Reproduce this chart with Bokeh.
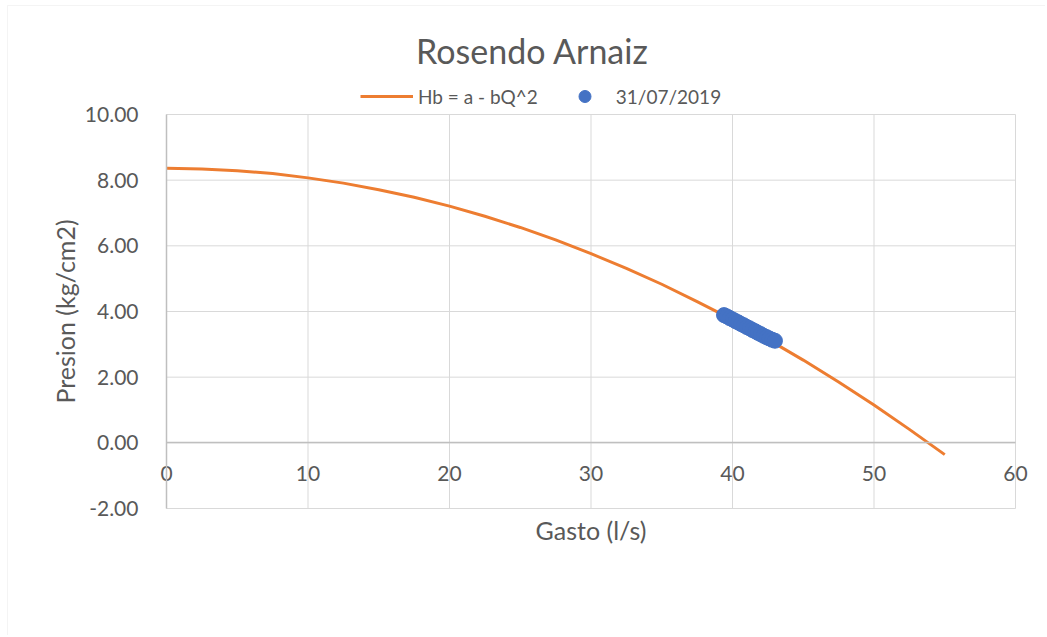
from bokeh.plotting import figure
from bokeh.models import LinearAxis, FixedTicker, NumeralTickFormatter, Legend, LegendItem, Range1d, Label, BoxAnnotation
from bokeh.embed import file_html
from bokeh.resources import INLINE

# Curve Hb = a - bQ^2
curve_q = [0, 2.5, 5, 7.5, 10, 12.5, 15, 17.5, 20, 22.5, 25, 27.5, 30,
           32.5, 35, 37.5, 40, 42.5, 45, 47.5, 50, 52.5, 55]
curve_h = [8.36, 8.34, 8.29, 8.20, 8.07, 7.91, 7.71, 7.48, 7.21, 6.90, 6.56, 6.18, 5.76,
           5.31, 4.83, 4.30, 3.75, 3.15, 2.52, 1.85, 1.15, 0.41, -0.36]

# Measurements 31/07/2019
meas_q = [39.4, 39.6, 39.8, 40.0, 40.2, 40.4, 40.6, 40.8, 41.0, 41.2,
          41.4, 41.6, 41.8, 42.0, 42.2, 42.4, 42.6, 42.8, 43.0]
meas_h = [3.89, 3.85, 3.80, 3.76, 3.71, 3.67, 3.62, 3.58, 3.53, 3.49,
          3.44, 3.40, 3.35, 3.31, 3.26, 3.22, 3.18, 3.14, 3.11]

x_ticks = [0, 10, 20, 30, 40, 50, 60]
y_ticks = [-2, 0, 2, 4, 6, 8, 10]

title_text = "Rosendo Arnaiz"
x_label = "Gasto (l/s)"
y_label = "Presion (kg/cm2)"
series_names = ["Hb = a - bQ^2", "31/07/2019"]

FONT = "Lato"
TXT = "#595959"
GRID = "#d9d9d9"
AX = "#bfbfbf"

W, H = 1045, 635
# plot area (in pixels of the canvas) where the axes live
PL, PR, PT, PB = 166, 1015, 114, 508
xmin, xmax = x_ticks[0], x_ticks[-1]
ymin, ymax = y_ticks[0], y_ticks[-1]
sx = (PR - PL) / (xmax - xmin)
sy = (PB - PT) / (ymax - ymin)
x_range = Range1d(xmin - PL / sx, xmax + (W - PR) / sx)
y_range = Range1d(ymin - (H - PB) / sy, ymax + PT / sy)

p = figure(width=W, height=H, output_backend="svg", toolbar_location=None,
           x_range=x_range, y_range=y_range,
           x_axis_type=None, y_axis_type=None,
           min_border_left=0, min_border_right=0, min_border_top=0, min_border_bottom=0)
p.outline_line_color = None
p.xgrid.visible = False
p.ygrid.visible = False

# chart border
p.add_layout(BoxAnnotation(left=7, right=W + 50, bottom=-50, top=H - 5,
                           left_units="screen", right_units="screen",
                           top_units="screen", bottom_units="screen",
                           fill_alpha=0, line_color=GRID, line_width=1))

# grid lines
p.segment(x0=x_ticks, y0=[ymin] * len(x_ticks), x1=x_ticks, y1=[ymax] * len(x_ticks),
          line_color=GRID, line_width=1)
p.segment(x0=[xmin] * len(y_ticks), y0=y_ticks, x1=[xmax] * len(y_ticks), y1=y_ticks,
          line_color=GRID, line_width=1)

# y axis at Q = 0
yax = LinearAxis(ticker=FixedTicker(ticks=y_ticks), formatter=NumeralTickFormatter(format="0.00"),
                 fixed_location=0, bounds=(ymin, ymax))
yax.axis_line_color = AX
yax.axis_line_width = 1.5
yax.major_tick_line_color = None
yax.minor_tick_line_color = None
yax.major_label_standoff = 22
yax.major_label_text_font = FONT
yax.major_label_text_font_size = "21px"
yax.major_label_text_color = TXT
yax.axis_label = y_label
yax.axis_label_text_font = FONT
yax.axis_label_text_font_size = "25px"
yax.axis_label_text_font_style = "normal"
yax.axis_label_text_color = TXT
yax.axis_label_standoff = 2
p.add_layout(yax, "left")

# x axis crossing at H = 0
xax = LinearAxis(ticker=FixedTicker(ticks=x_ticks), fixed_location=0, bounds=(xmin, xmax))
xax.axis_line_color = AX
xax.axis_line_width = 1.5
xax.major_tick_line_color = None
xax.minor_tick_line_color = None
xax.major_label_standoff = 17
xax.major_label_text_font = FONT
xax.major_label_text_font_size = "21px"
xax.major_label_text_color = TXT
xax.axis_label = x_label
xax.axis_label_text_font = FONT
xax.axis_label_text_font_size = "25px"
xax.axis_label_text_font_style = "normal"
xax.axis_label_text_color = TXT
xax.axis_label_standoff = 31
p.add_layout(xax, "below")

r_line = p.line(curve_q, curve_h, line_color="#ED7D31", line_width=3)
r_pts = p.scatter(meas_q, meas_h, size=15, fill_color="#4472C4", line_color="#4472C4")

# title
p.add_layout(Label(x=532, y=H - 50, x_units="screen", y_units="screen", text=title_text,
                   text_align="center", text_baseline="middle", text_font=FONT,
                   text_font_size="34px", text_color=TXT))

legend = Legend(items=[LegendItem(label=series_names[0], renderers=[r_line]),
                       LegendItem(label=series_names[1], renderers=[r_pts])],
                location=(360, H - 111), orientation="horizontal")
legend.padding = 0
legend.margin = 0
legend.spacing = 20
legend.glyph_width = 53
legend.glyph_height = 30
legend.label_standoff = 5
legend.label_text_font = FONT
legend.label_text_font_size = "19px"
legend.label_text_color = TXT
legend.border_line_color = None
legend.background_fill_alpha = 0
p.add_layout(legend, "center")

open("out.html", "w").write(file_html(p, INLINE))
